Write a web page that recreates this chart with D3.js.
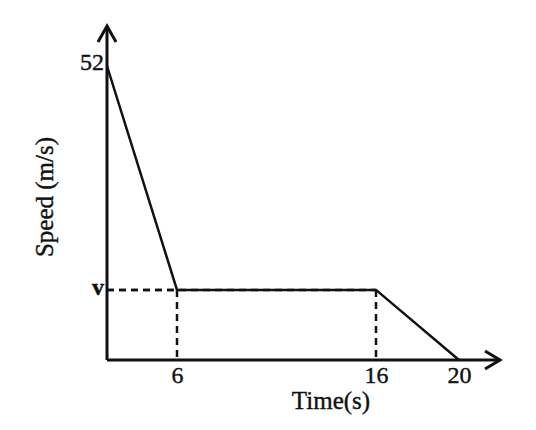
<!DOCTYPE html>
<html>
<head>
<meta charset="utf-8">
<script src="https://cdn.jsdelivr.net/npm/d3@7"></script>
<style>
  body { margin: 0; background: #fff; }
  text { font-family: "Liberation Serif", "DejaVu Serif", serif; fill: #111; stroke: #111; stroke-width: 0.4px; }
</style>
</head>
<body>
<svg id="chart" width="536" height="430"></svg>
<script>
// values (the chart is a sketch, not to scale)
const V = 12.4;
const times = [0, 6, 16, 20];
const speeds = [52, V, V, 0];
const xTicks = [6, 16, 20];
const yTicks = [52, V];

// x is drawn piecewise in the original, so use a polylinear scale
let x = d3.scaleLinear().domain([0, 6, 16, 20]).range([107, 177, 376, 459]);
let y = d3.scaleLinear().domain([0, 52]).range([360, 66]);

let svg = d3.select('#chart');
const x0 = x(0), y0 = y(0);
const xEnd = 500, yEnd = 26;

// dashed guides
[1, 2].forEach(i => {
  svg.append('line')
    .attr('x1', x(0)).attr('y1', y(speeds[i]))
    .attr('x2', x(times[i])).attr('y2', y(speeds[i]))
    .style('stroke', '#111').style('stroke-width', 2.5)
    .style('stroke-dasharray', '7,5');
  svg.append('line')
    .attr('x1', x(times[i])).attr('y1', y(speeds[i]))
    .attr('x2', x(times[i])).attr('y2', y0)
    .style('stroke', '#111').style('stroke-width', 2.5)
    .style('stroke-dasharray', '7,5');
});

// axes lines with open arrowheads
svg.append('path')
  .attr('d', `M${x0},${y0}H${xEnd}M${x0},${y0}V${yEnd}`)
  .style('stroke', '#111').style('stroke-width', 3).style('fill', 'none');
svg.append('path')
  .attr('d', `M${x0 - 9},${yEnd + 16}L${x0},${yEnd}L${x0 + 9},${yEnd + 16}`)
  .style('stroke', '#111').style('stroke-width', 3).style('fill', 'none');
svg.append('path')
  .attr('d', `M${xEnd - 15},${y0 - 9}L${xEnd},${y0}L${xEnd - 15},${y0 + 9}`)
  .style('stroke', '#111').style('stroke-width', 3).style('fill', 'none');

// speed line
let line = d3.line().x((d, i) => x(times[i])).y(d => y(d));
svg.append('path')
  .attr('d', line(speeds))
  .style('stroke', '#111').style('stroke-width', 2.5).style('fill', 'none');

// tick labels via axes
let xAxis = d3.axisBottom(x).tickValues(xTicks).tickSize(0).tickPadding(6).tickFormat(d => d);
let gx = svg.append('g').attr('transform', `translate(0,${y0})`).call(xAxis);
gx.select('.domain').remove();
gx.selectAll('text').style('font-size', '24px').attr('dy', '0.71em').style('font-family', null);

let yAxis = d3.axisLeft(y).tickValues(yTicks).tickSize(0).tickPadding(3)
  .tickFormat(d => d === V ? 'v' : d);
let gy = svg.append('g').attr('transform', `translate(${x0},0)`).call(yAxis);
gy.select('.domain').remove();
gy.selectAll('text').style('font-size', '24px').style('font-family', null);
gy.selectAll('text').filter(d => d === V).style('font-weight', 'bold').attr('dy', '0.2em');
gy.selectAll('text').filter(d => d === 52).attr('dy', '0.15em');

// axis titles
svg.append('text')
  .attr('x', 331).attr('y', 409)
  .attr('text-anchor', 'middle')
  .style('font-size', '25px')
  .text('Time(s)');
svg.append('text')
  .attr('transform', 'translate(53,197) rotate(-90)')
  .attr('text-anchor', 'middle')
  .style('font-size', '25px')
  .text('Speed (m/s)');
</script>
</body>
</html>
